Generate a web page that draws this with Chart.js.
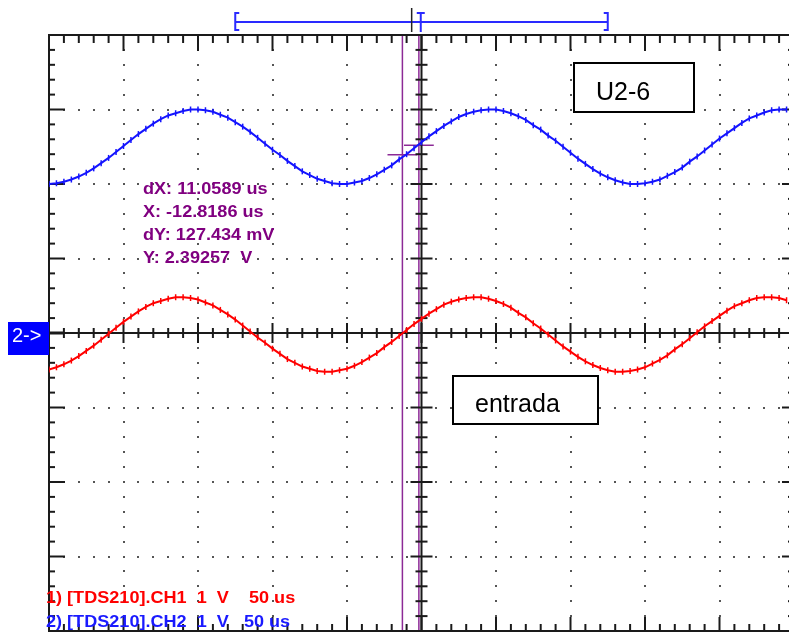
<!DOCTYPE html>
<html lang="es">
<head>
<meta charset="utf-8">
<title>TDS210 CH1 / CH2</title>
<script src="https://cdn.jsdelivr.net/npm/chart.js@4.4.1/dist/chart.umd.min.js"></script>
<style>
  html, body { margin: 0; padding: 0; background: #fff; overflow: hidden; }
  canvas { display: block; }
</style>
</head>
<body>
<canvas id="osciloscopio" width="800" height="640"></canvas>
<script>
// tiempo en us (50 us/div), tensión en divisiones (1 V/div)
const tiempos = [
  -250, -245, -240, -235, -230, -225, -220, -215, -210, -205,
  -200, -195, -190, -185, -180, -175, -170, -165, -160, -155,
  -150, -145, -140, -135, -130, -125, -120, -115, -110, -105,
  -100, -95, -90, -85, -80, -75, -70, -65, -60, -55,
  -50, -45, -40, -35, -30, -25, -20, -15, -10, -5,
  0, 5, 10, 15, 20, 25, 30, 35, 40, 45,
  50, 55, 60, 65, 70, 75, 80, 85, 90, 95,
  100, 105, 110, 115, 120, 125, 130, 135, 140, 145,
  150, 155, 160, 165, 170, 175, 180, 185, 190, 195,
  200, 205, 210, 215, 220, 225, 230, 235, 240, 245
];

// CH2 - U2-6 (azul)
const canal2 = [
  2.00, 2.01, 2.03, 2.06, 2.10, 2.15, 2.21, 2.28, 2.35, 2.43,
  2.51, 2.59, 2.67, 2.74, 2.81, 2.87, 2.92, 2.95, 2.98, 3.00,
  3.00, 2.99, 2.97, 2.93, 2.89, 2.83, 2.77, 2.70, 2.62, 2.54,
  2.46, 2.39, 2.31, 2.24, 2.17, 2.12, 2.07, 2.04, 2.01, 2.00,
  2.00, 2.02, 2.04, 2.08, 2.13, 2.19, 2.25, 2.33, 2.40, 2.48,
  2.56, 2.64, 2.71, 2.78, 2.84, 2.90, 2.94, 2.97, 2.99, 3.00,
  3.00, 2.98, 2.95, 2.91, 2.86, 2.79, 2.73, 2.65, 2.58, 2.50,
  2.42, 2.34, 2.27, 2.20, 2.14, 2.09, 2.05, 2.02, 2.00, 2.00,
  2.01, 2.03, 2.06, 2.11, 2.16, 2.22, 2.30, 2.37, 2.45, 2.53,
  2.61, 2.68, 2.75, 2.82, 2.88, 2.92, 2.96, 2.99, 3.00, 3.00
];

// CH1 - entrada (rojo)
const canal1 = [
  -0.49, -0.46, -0.42, -0.37, -0.31, -0.24, -0.17, -0.09, -0.01, 0.07,
  0.15, 0.22, 0.29, 0.35, 0.40, 0.43, 0.46, 0.48, 0.48, 0.47,
  0.45, 0.41, 0.37, 0.31, 0.25, 0.18, 0.10, 0.02, -0.06, -0.13,
  -0.21, -0.28, -0.35, -0.40, -0.45, -0.48, -0.51, -0.52, -0.52, -0.50,
  -0.48, -0.44, -0.39, -0.33, -0.27, -0.19, -0.12, -0.04, 0.04, 0.12,
  0.19, 0.26, 0.32, 0.38, 0.42, 0.45, 0.47, 0.48, 0.48, 0.46,
  0.43, 0.39, 0.34, 0.27, 0.21, 0.13, 0.06, -0.02, -0.10, -0.18,
  -0.25, -0.32, -0.38, -0.43, -0.47, -0.50, -0.52, -0.52, -0.51, -0.49,
  -0.46, -0.41, -0.36, -0.30, -0.22, -0.15, -0.07, 0.01, 0.09, 0.16,
  0.23, 0.30, 0.36, 0.40, 0.44, 0.47, 0.48, 0.48, 0.47, 0.44
];

const cursoresX = [-12.8186, -1.7597];   // us
const cursoresY = [2.39257, 2.52000];    // V
const lecturas = ["dX: 11.0589 us", "X: -12.8186 us", "dY: 127.434 mV", "Y: 2.39257  V"];
const pies = ["1) [TDS210].CH1  1  V    50 us", "2) [TDS210].CH2  1  V   50 us"];
const coloresPie = ["#ff0000", "#1a1aff"];
const ventana = [-125, 125];   // registro visible en la barra superior
const disparo = -0.5;
const marcaNegra = -6.6;

const fuenteScope = 'bold 16px "Liberation Sans", Arial, sans-serif';
const fuenteCaja = '25px "Liberation Sans", Arial, sans-serif';
const morado = '#8c2a96';

const linea = (ctx, x1, y1, x2, y2) => {
    ctx.beginPath();
    ctx.moveTo(x1, y1);
    ctx.lineTo(x2, y2);
    ctx.stroke();
};

// texto del osciloscopio, algo ensanchado
const textoAncho = (ctx, txt, px, py, color) => {
    ctx.save();
    ctx.translate(px, py);
    ctx.scale(1.13, 1);
    ctx.fillStyle = color;
    ctx.font = fuenteScope;
    ctx.fillText(txt, 0, 0);
    ctx.restore();
};

const caja = (ctx, txt, x1, y1, x2, y2, tx, ty) => {
    ctx.fillStyle = '#fff';
    ctx.fillRect(x1, y1, x2 - x1, y2 - y1);
    ctx.strokeStyle = '#000';
    ctx.lineWidth = 2;
    ctx.strokeRect(x1, y1, x2 - x1, y2 - y1);
    ctx.fillStyle = '#000';
    ctx.font = fuenteCaja;
    ctx.fillText(txt, tx, ty);
};

const rejilla = {
    id: 'rejilla',
    beforeDatasetsDraw(chart) {
        const { ctx, chartArea: a, scales: { x, y } } = chart;
        ctx.save();

        // cursores
        ctx.strokeStyle = morado;
        ctx.lineWidth = 1.5;
        cursoresX.forEach(t => {
            const px = x.getPixelForValue(t);
            linea(ctx, px, a.top, px, a.bottom);
        });
        cursoresY.forEach((v, i) => {
            const py = y.getPixelForValue(v);
            linea(ctx, x.getPixelForValue(cursoresX[i] - 10), py, x.getPixelForValue(cursoresX[i] + 10), py);
        });

        // puntos de la retícula
        ctx.fillStyle = '#555';
        for (let i = 5; i < 50; i += 5) {
            if (i === 25) continue;
            const px = x.getPixelForValue(-250 + i * 10);
            for (let j = 1; j < 40; j++) {
                if (j === 20) continue;
                ctx.fillRect(Math.round(px) - 1, Math.round(y.getPixelForValue(-4 + j * 0.2)) - 1, 2, 2);
            }
        }
        for (let j = 5; j < 40; j += 5) {
            if (j === 20) continue;
            const py = y.getPixelForValue(-4 + j * 0.2);
            for (let i = 1; i < 50; i++) {
                if (i === 25) continue;
                ctx.fillRect(Math.round(x.getPixelForValue(-250 + i * 10)) - 1, Math.round(py) - 1, 2, 2);
            }
        }

        // marco y ejes centrales
        ctx.strokeStyle = '#1a1a1a';
        ctx.lineWidth = 2;
        ctx.strokeRect(a.left, a.top, a.right - a.left, a.bottom - a.top);
        const cx = x.getPixelForValue(0);
        const cy = y.getPixelForValue(0);
        linea(ctx, a.left, cy, a.right, cy);
        linea(ctx, cx, a.top, cx, a.bottom);

        for (let i = 1; i < 50; i++) {
            const px = x.getPixelForValue(-250 + i * 10);
            const mayor = i % 5 === 0;
            linea(ctx, px, a.top, px, a.top + (mayor ? 16 : 8));
            linea(ctx, px, a.bottom, px, a.bottom - (mayor ? 14 : 7));
            linea(ctx, px, cy - (mayor ? 10 : 5), px, cy + (mayor ? 10 : 5));
        }
        for (let j = 1; j < 40; j++) {
            const py = y.getPixelForValue(-4 + j * 0.2);
            const mayor = j % 5 === 0;
            linea(ctx, a.left, py, a.left + (mayor ? 16 : 6), py);
            linea(ctx, a.right, py, a.right - (mayor ? 12 : 6), py);
            linea(ctx, cx - (mayor ? 11 : 6), py, cx + (mayor ? 11 : 6), py);
        }

        // referencia de CH2
        ctx.lineWidth = 3;
        linea(ctx, a.left, cy, a.left + 15, cy);
        ctx.restore();
    },
    afterDraw(chart) {
        const { ctx, chartArea: a, scales: { x, y } } = chart;
        ctx.save();

        // barra de registro
        const yb = 22;
        const x1 = x.getPixelForValue(ventana[0]);
        const x2 = x.getPixelForValue(ventana[1]);
        ctx.strokeStyle = '#2a2aff';
        ctx.lineWidth = 2;
        linea(ctx, x1, yb, x2, yb);
        ctx.beginPath();
        ctx.moveTo(x1 + 4, 13); ctx.lineTo(x1, 13); ctx.lineTo(x1, 30); ctx.lineTo(x1 + 4, 30);
        ctx.moveTo(x2 - 4, 13); ctx.lineTo(x2, 13); ctx.lineTo(x2, 30); ctx.lineTo(x2 - 4, 30);
        ctx.stroke();
        const xd = x.getPixelForValue(disparo);
        linea(ctx, xd, 13, xd, 32);
        linea(ctx, xd - 4, 13, xd + 4, 13);
        ctx.strokeStyle = '#222';
        ctx.lineWidth = 1.5;
        const xn = x.getPixelForValue(marcaNegra);
        linea(ctx, xn, 8, xn, 32);

        // lecturas de cursores
        lecturas.forEach((txt, i) => textoAncho(ctx, txt, 143, 194 + i * 23, '#800080'));

        // canales
        pies.forEach((txt, i) => textoAncho(ctx, txt, 46, 603 + i * 24, coloresPie[i]));

        // indicador de canal 2
        ctx.fillStyle = '#0000ff';
        ctx.fillRect(8, 322, a.left - 8, 33);
        ctx.fillStyle = '#fff';
        ctx.font = '20px "Liberation Sans", Arial, sans-serif';
        ctx.fillText('2->', 12, 342);

        caja(ctx, 'U2-6', 574, 63, 694, 112, 596, 100);
        caja(ctx, 'entrada', 453, 376, 598, 424, 475, 412);
        ctx.restore();
    }
};

document.addEventListener("DOMContentLoaded", function() {
    const lienzo = document.getElementById('osciloscopio');
    const serie = (valores) => tiempos.map((t, i) => ({ x: t, y: valores[i] }));
    const estiloTraza = (color) => ({
        borderColor: color,
        backgroundColor: color,
        borderWidth: 2,
        tension: 0,
        pointStyle: 'line',
        pointRotation: 90,
        pointRadius: 3,
        pointBorderWidth: 1.5,
        pointBorderColor: color,
        fill: false
    });

    new Chart(lienzo.getContext('2d'), {
        type: 'line',
        data: {
            datasets: [
                { label: 'CH2 U2-6', data: serie(canal2), ...estiloTraza('#1414ff') },
                { label: 'CH1 entrada', data: serie(canal1), ...estiloTraza('#ff0000') }
            ]
        },
        options: {
            responsive: false,
            animation: false,
            devicePixelRatio: 1,
            layout: { padding: { left: 49, top: 35, right: 6, bottom: 9 } },
            scales: {
                x: { type: 'linear', min: -250, max: 250, display: false },
                y: { min: -4, max: 4, display: false }
            },
            plugins: {
                legend: { display: false },
                tooltip: { enabled: false }
            }
        },
        plugins: [rejilla]
    });
});
</script>
</body>
</html>
